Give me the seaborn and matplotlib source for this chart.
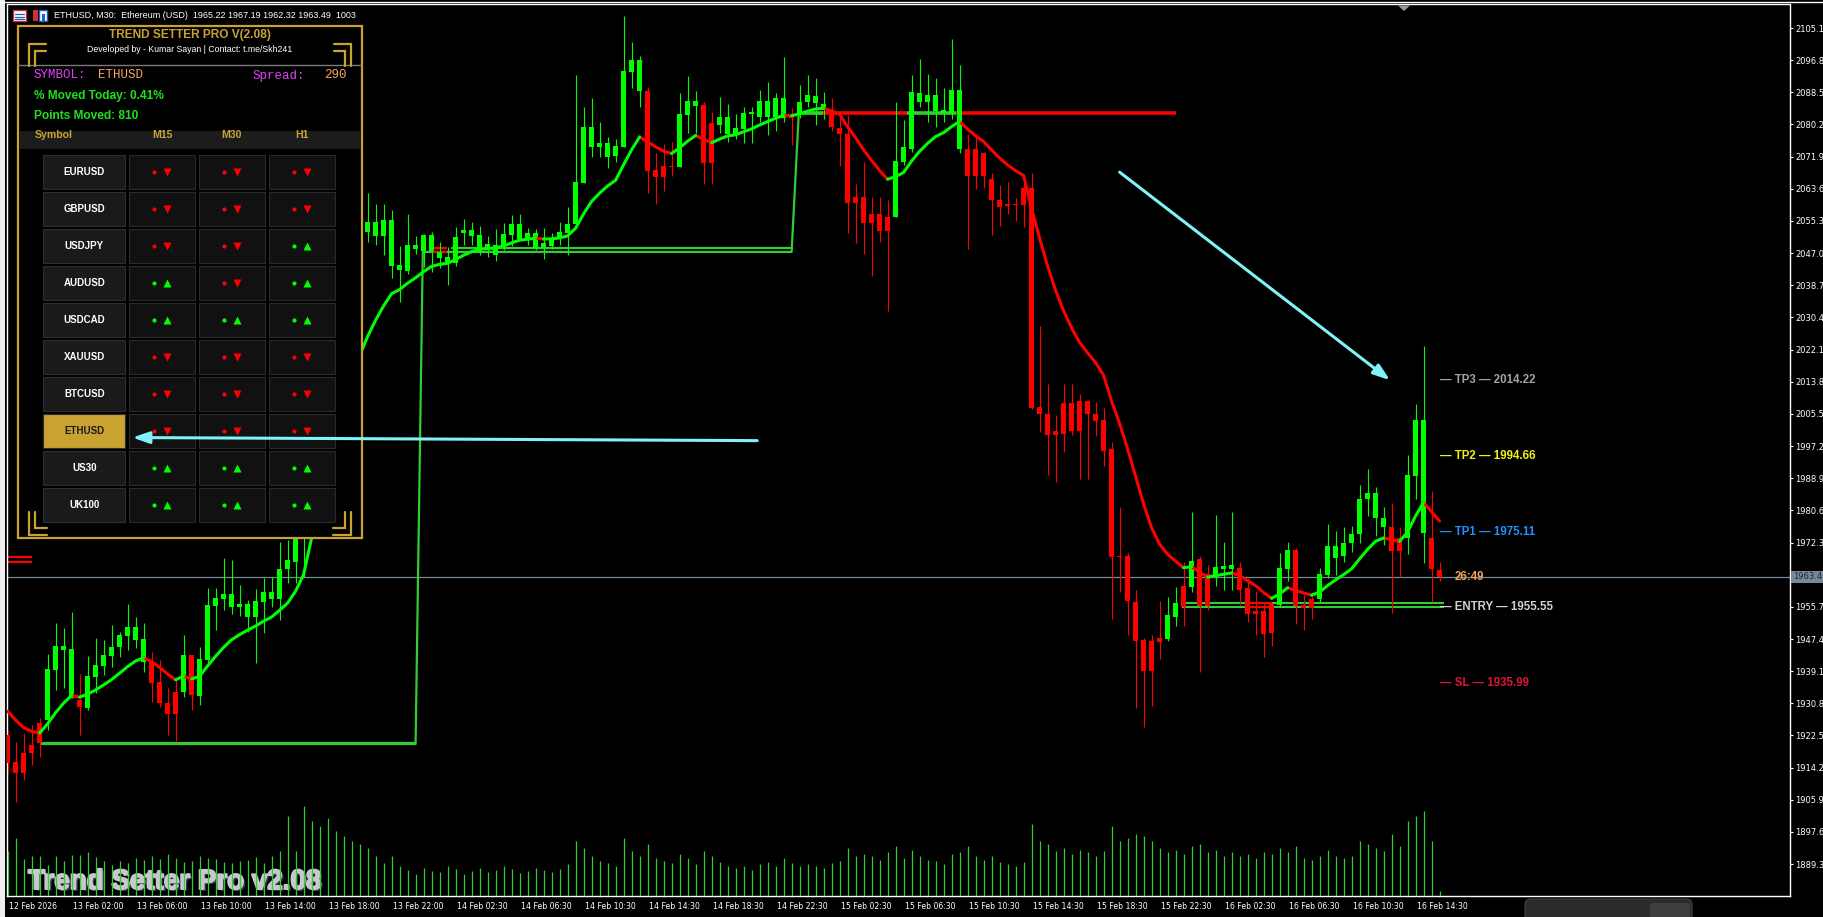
import numpy as np
import pandas as pd
import seaborn as sns
import matplotlib.pyplot as plt
import matplotlib.patheffects as pe
from matplotlib import font_manager
from matplotlib.patches import Rectangle, FancyArrowPatch, FancyBboxPatch, Polygon
from matplotlib.transforms import ScaledTranslation, blended_transform_factory

# ETHUSD M30 candles (bar 0 = first visible bar)
opens = [
    1922.6, 1915.6, 1917.9, 1920.0, 1925.7, 1926.5, 1939.4, 1944.6, 1932.2, 1931.6,
    1929.6, 1937.6, 1940.4, 1943.0, 1945.3, 1948.2, 1947.1, 1941.5, 1941.5, 1936.3,
    1930.9, 1933.7, 1933.7, 1943.3, 1932.7, 1942.0, 1955.9, 1957.7, 1955.7, 1955.7,
    1953.1, 1953.1, 1957.0, 1957.7, 1957.7, 1965.4, 1967.3, 1978.0, 1990.0, 2030.0,
    2040.0, 2048.0, 2055.0, 2050.0, 2058.0, 2052.4, 2051.4, 2051.4, 2043.7, 2042.6,
    2042.4, 2048.0, 2047.5, 2047.5, 2045.7, 2044.4, 2044.4, 2052.2, 2051.4, 2047.5,
    2048.5, 2046.5, 2048.8, 2051.7, 2050.6, 2050.6, 2048.3, 2048.6, 2048.8, 2050.6,
    2052.2, 2054.5, 2065.1, 2074.4, 2074.4, 2071.8, 2072.0, 2074.4, 2093.7, 2088.8,
    2088.8, 2068.4, 2069.5, 2069.5, 2069.2, 2082.6, 2084.9, 2085.2, 2080.6, 2080.1,
    2077.7, 2077.7, 2079.0, 2083.0, 2082.1, 2082.1, 2082.1, 2081.9, 2082.6, 2083.2,
    2086.0, 2085.7, 2083.9, 2084.0, 2079.4, 2077.8, 2061.4, 2061.4, 2057.0, 2057.0,
    2056.4, 2056.4, 2070.5, 2074.0, 2086.1, 2086.1, 2083.8, 2083.2, 2083.2, 2074.0,
    2073.9, 2073.9, 2072.9, 2066.2, 2060.6, 2059.6, 2059.6, 2063.8, 2063.8, 2007.4,
    2005.6, 2001.0, 2008.3, 2008.3, 2008.9, 2008.9, 2005.4, 2003.8, 1996.4, 1968.7,
    1968.7, 1957.0, 1947.1, 1946.9, 1947.6, 1947.3, 1953.2, 1961.1, 1960.9, 1968.0,
    1964.2, 1963.9, 1965.4, 1965.4, 1965.6, 1960.6, 1954.6, 1954.7, 1956.4, 1956.2,
    1965.4, 1970.5, 1956.2, 1957.6, 1957.6, 1963.9, 1968.4, 1968.7, 1972.1, 1974.5,
    1983.5, 1978.6, 1976.2, 1976.2, 1973.4, 1973.4, 1989.6, 1974.8, 1973.4, 1965.22,
]
highs = [
    1924.0, 1920.8, 1923.1, 1925.2, 1927.0, 1943.5, 1951.5, 1950.2, 1954.4, 1938.4,
    1943.0, 1947.6, 1947.1, 1951.0, 1949.2, 1956.4, 1953.1, 1951.5, 1944.0, 1941.9,
    1934.7, 1937.1, 1948.4, 1943.3, 1945.3, 1960.6, 1960.6, 1968.3, 1967.8, 1961.4,
    1957.4, 1960.3, 1963.2, 1963.4, 1972.5, 1973.0, 1982.0, 1995.0, 2036.0, 2046.0,
    2052.0, 2060.0, 2058.0, 2062.0, 2061.0, 2062.5, 2059.7, 2059.7, 2058.1, 2048.8,
    2057.1, 2051.5, 2052.0, 2052.5, 2049.9, 2048.6, 2053.8, 2055.8, 2055.0, 2054.0,
    2051.5, 2053.2, 2054.8, 2056.8, 2057.1, 2053.6, 2053.2, 2053.5, 2052.2, 2055.0,
    2058.9, 2092.9, 2084.7, 2087.0, 2080.8, 2077.0, 2076.5, 2108.2, 2101.5, 2097.9,
    2089.9, 2072.8, 2075.1, 2075.6, 2088.3, 2092.7, 2088.8, 2086.0, 2083.4, 2087.3,
    2085.5, 2082.9, 2084.7, 2084.7, 2089.1, 2091.2, 2088.3, 2097.6, 2084.4, 2090.4,
    2092.9, 2092.2, 2088.5, 2087.1, 2082.6, 2082.6, 2064.8, 2070.5, 2061.4, 2061.4,
    2060.6, 2086.1, 2081.4, 2093.0, 2097.1, 2093.3, 2092.3, 2089.7, 2102.2, 2095.6,
    2077.8, 2077.8, 2073.1, 2067.7, 2064.5, 2065.4, 2061.2, 2064.8, 2067.7, 2028.2,
    2013.3, 2005.1, 2013.3, 2013.3, 2010.7, 2009.2, 2008.7, 2007.1, 1998.2, 1981.6,
    1969.5, 1960.0, 1947.6, 1948.4, 1957.3, 1958.3, 1960.7, 1967.4, 1980.3, 1968.7,
    1966.5, 1979.4, 1972.5, 1980.3, 1967.4, 1963.1, 1959.9, 1957.0, 1956.8, 1969.7,
    1972.5, 1970.8, 1958.8, 1959.2, 1965.6, 1977.1, 1975.4, 1976.2, 1976.6, 1987.2,
    1991.2, 1986.6, 1981.4, 1982.6, 1976.4, 1994.9, 2008.1, 2023.0, 1985.7, 1967.19,
]
lows = [
    1912.5, 1905.3, 1911.0, 1914.9, 1916.9, 1923.9, 1934.2, 1934.7, 1932.2, 1922.6,
    1929.1, 1933.5, 1938.1, 1940.2, 1942.8, 1944.6, 1945.1, 1938.9, 1931.1, 1929.9,
    1922.6, 1920.8, 1932.4, 1929.1, 1930.4, 1941.5, 1949.7, 1955.0, 1953.8, 1953.3,
    1949.2, 1941.2, 1949.0, 1955.7, 1952.4, 1961.8, 1961.8, 1963.4, 1986.0, 2024.0,
    2035.0, 2044.0, 2045.0, 2048.0, 2049.0, 2049.9, 2049.1, 2046.5, 2040.6, 2034.4,
    2041.6, 2046.9, 2043.4, 2042.0, 2043.2, 2038.8, 2043.7, 2049.1, 2049.1, 2046.5,
    2046.0, 2045.0, 2047.8, 2048.8, 2050.4, 2049.1, 2047.8, 2045.5, 2048.0, 2049.0,
    2046.5, 2054.2, 2065.1, 2071.8, 2071.8, 2069.0, 2070.5, 2074.4, 2089.6, 2084.7,
    2062.5, 2059.7, 2063.1, 2066.9, 2069.2, 2078.0, 2078.0, 2064.8, 2064.8, 2078.0,
    2075.7, 2076.5, 2075.4, 2075.4, 2080.8, 2077.5, 2078.5, 2080.8, 2074.9, 2081.9,
    2084.7, 2080.1, 2081.6, 2078.4, 2069.5, 2052.3, 2049.5, 2046.9, 2041.2, 2049.9,
    2032.1, 2056.4, 2069.7, 2073.1, 2084.7, 2080.8, 2079.6, 2080.8, 2081.6, 2072.8,
    2048.1, 2063.6, 2063.8, 2051.7, 2054.1, 2057.0, 2055.3, 2053.8, 2006.8, 2000.8,
    1989.7, 1987.8, 1995.6, 2000.0, 1988.7, 1988.7, 1999.7, 1992.0, 1952.5, 1959.6,
    1948.4, 1929.5, 1924.6, 1930.1, 1942.2, 1947.0, 1950.8, 1950.8, 1959.6, 1939.0,
    1954.9, 1961.1, 1960.0, 1960.0, 1956.2, 1951.9, 1948.4, 1942.8, 1945.6, 1955.8,
    1962.4, 1951.4, 1949.6, 1952.5, 1957.0, 1963.1, 1963.9, 1967.4, 1969.9, 1972.1,
    1979.2, 1974.0, 1971.7, 1954.2, 1963.3, 1969.3, 1983.5, 1966.9, 1957.0, 1962.32,
]
closes = [
    1915.4, 1912.8, 1912.8, 1917.9, 1920.5, 1939.7, 1945.6, 1945.6, 1944.8, 1929.8,
    1937.8, 1940.7, 1943.3, 1945.3, 1948.4, 1950.5, 1950.5, 1947.4, 1936.0, 1930.9,
    1928.0, 1928.0, 1943.3, 1932.9, 1942.2, 1956.2, 1958.0, 1959.0, 1959.0, 1956.5,
    1956.5, 1957.2, 1959.5, 1959.5, 1965.4, 1967.8, 1978.0, 1990.0, 2030.0, 2040.0,
    2048.0, 2055.0, 2050.0, 2058.0, 2052.0, 2055.0, 2055.0, 2055.5, 2055.5, 2043.9,
    2049.1, 2049.1, 2051.7, 2051.7, 2047.3, 2046.0, 2051.2, 2053.0, 2053.0, 2051.7,
    2049.3, 2049.1, 2051.9, 2054.5, 2054.5, 2052.2, 2052.2, 2049.6, 2050.9, 2052.4,
    2054.5, 2065.3, 2079.5, 2079.5, 2075.4, 2075.4, 2074.6, 2094.0, 2096.8, 2096.8,
    2068.2, 2066.6, 2066.6, 2069.2, 2082.9, 2086.2, 2086.2, 2070.3, 2070.3, 2082.1,
    2082.1, 2079.3, 2083.1, 2083.4, 2086.2, 2086.2, 2087.0, 2087.0, 2081.9, 2086.0,
    2087.8, 2087.5, 2085.5, 2079.6, 2077.8, 2060.0, 2060.0, 2054.7, 2054.7, 2052.6,
    2052.6, 2070.7, 2074.3, 2088.5, 2088.3, 2087.7, 2087.7, 2084.0, 2089.1, 2089.1,
    2066.9, 2066.9, 2066.9, 2060.6, 2059.0, 2059.1, 2059.4, 2059.4, 2007.1, 2005.6,
    2000.0, 2000.0, 2000.4, 2001.2, 2001.2, 2005.4, 2003.6, 1995.9, 1968.5, 1968.5,
    1957.2, 1947.0, 1939.2, 1939.2, 1946.7, 1953.6, 1956.8, 1955.7, 1967.6, 1955.9,
    1955.9, 1966.1, 1966.2, 1966.5, 1960.0, 1953.9, 1953.9, 1948.7, 1948.9, 1965.6,
    1970.4, 1955.9, 1955.3, 1955.3, 1964.2, 1971.4, 1971.4, 1972.3, 1974.5, 1983.5,
    1985.2, 1985.2, 1978.6, 1970.2, 1970.2, 1989.7, 2003.9, 2003.9, 1965.4, 1963.49,
]
# tick volume per bar
volumes = [
    9000, 11600, 7400, 8000, 8000, 6200, 8000, 7000, 8200, 8200,
    8800, 7800, 7000, 6200, 7000, 6600, 7600, 7200, 8000, 7400,
    8400, 7600, 6800, 7000, 8000, 7600, 7400, 6800, 6600, 7000,
    7200, 7800, 6600, 8000, 9000, 16000, 9000, 18000, 15000, 14000,
    15600, 13000, 12000, 11000, 10400, 9600, 8000, 6600, 8000, 6000,
    5200, 4400, 5600, 5000, 4800, 6000, 5400, 4400, 5000, 5600,
    4800, 5200, 6000, 5400, 4600, 5000, 5600, 5200, 4800, 5400,
    6400, 11000, 9600, 8000, 7000, 6600, 6000, 11600, 9000, 8000,
    10400, 7600, 7000, 6600, 8400, 7600, 6400, 9000, 8000, 6800,
    6000, 5600, 6000, 5200, 6400, 6800, 6000, 7600, 6600, 6000,
    6400, 6000, 5600, 6600, 7000, 9600, 8000, 8400, 8000, 7200,
    8800, 10000, 7600, 9200, 8000, 7200, 7000, 6400, 8400, 8800,
    10000, 8000, 7200, 8000, 6800, 6400, 6000, 6800, 14400, 11000,
    10400, 9000, 9600, 8400, 9200, 8800, 8000, 9000, 14000, 11000,
    11600, 12400, 12000, 11000, 9600, 8800, 9200, 8400, 10000, 10400,
    8800, 9200, 8000, 8800, 8000, 8400, 7600, 8800, 8400, 9600,
    8800, 10000, 7600, 7200, 8000, 9200, 8000, 7600, 8000, 11000,
    10400, 9600, 9000, 12400, 10000, 15000, 16000, 17000, 11000, 1003,
]
ma_seed = 1931.0  # moving average value just before the first bar

time_labels = [
    '12 Feb 2026', '13 Feb 02:00', '13 Feb 06:00', '13 Feb 10:00', '13 Feb 14:00',
    '13 Feb 18:00', '13 Feb 22:00', '14 Feb 02:30', '14 Feb 06:30', '14 Feb 10:30',
    '14 Feb 14:30', '14 Feb 18:30', '14 Feb 22:30', '15 Feb 02:30', '15 Feb 06:30',
    '15 Feb 10:30', '15 Feb 14:30', '15 Feb 18:30', '15 Feb 22:30', '16 Feb 02:30',
    '16 Feb 06:30', '16 Feb 10:30', '16 Feb 14:30',
]
price_ticks = [2105.1, 2096.8, 2088.5, 2080.2, 2071.9, 2063.6, 2055.3, 2047.0, 2038.7,
               2030.4, 2022.1, 2013.8, 2005.5, 1997.2, 1988.9, 1980.6, 1972.3, 1955.7,
               1947.4, 1939.1, 1930.8, 1922.5, 1914.2, 1905.9, 1897.6, 1889.3]
bid_price = 1963.49
bid_label = '1963.4'

# support / resistance levels of the indicator
support_bars = [4, 51, 51.9, 98, 98.9, 101.9]
support_vals = [1920.5, 1920.5, 2047.3, 2047.3, 2083.1, 2083.1]
support2_bars = [55.5, 98]
support2_vals = [2048.3, 2048.3]
res_level = 2083.1
res_starts = [101.9, 112.4, 118.6]
res_ends = [112.4, 118.6, 146.0]
res_colors = ['#FF0000', '#32CD32', '#FF0000']
entry_zone = [1956.8, 1955.7]
entry_zone_span = [146.8, 179.5]

tp_texts = ['— TP3 — 2014.22', '— TP2 — 1994.66', '— TP1 — 1975.11',
            '— ENTRY — 1955.55', '— SL — 1935.99']
tp_prices = [2014.22, 1994.66, 1975.11, 1955.55, 1935.99]
tp_colors = ['#A3A3A3', '#F2F20F', '#1E90FF', '#D0D0D0', '#DC143C']

panel_symbols = ['EURUSD', 'GBPUSD', 'USDJPY', 'AUDUSD', 'USDCAD',
                 'XAUUSD', 'BTCUSD', 'ETHUSD', 'US30', 'UK100']
sig_m15 = ['dn', 'dn', 'dn', 'up', 'up', 'dn', 'dn', 'dn', 'up', 'up']
sig_m30 = ['dn', 'dn', 'dn', 'dn', 'up', 'dn', 'dn', 'dn', 'up', 'up']
sig_h1 = ['dn', 'dn', 'up', 'up', 'up', 'dn', 'dn', 'dn', 'up', 'up']

GREEN = '#00FF00'
RED = '#FF0000'
GOLD = '#C9A232'
LIME = '#32CD32'

sns.set_style('dark')
plt.rcParams['font.family'] = ['DejaVu Sans']


def have_font(name):
    try:
        font_manager.findfont(font_manager.FontProperties(family=name), fallback_to_default=False)
        return True
    except Exception:
        return False


sans = 'Liberation Sans' if have_font('Liberation Sans') else 'DejaVu Sans'
mono = 'Liberation Mono' if have_font('Liberation Mono') else 'DejaVu Sans Mono'
narrow = 'Liberation Sans Narrow' if have_font('Liberation Sans Narrow') else None

W, H = 1823, 917
fig = plt.figure(figsize=(W / 100, H / 100), dpi=100, facecolor='black')


def box(x0, y0, x1, y1):
    # pixel box of the screenshot -> figure fraction
    return [x0 / W, 1 - y1 / H, (x1 - x0) / W, (y1 - y0) / H]


# ---------------- main price chart ----------------
ax = fig.add_axes(box(7, 4.5, 1790, 896))
ax.set_facecolor('black')
bars = np.arange(len(closes))
o = np.array(opens)
c = np.array(closes)
candle_col = np.where(c >= o, GREEN, RED)

ax.axhline(bid_price, color='#778899', lw=0.9, zorder=1)

# indicator step lines
ax.plot(support_bars[:2], support_vals[:2], color=LIME, lw=2.3, zorder=2, solid_capstyle='butt')
ax.plot(support_bars[1:], support_vals[1:], color=LIME, lw=1.6, zorder=2, solid_capstyle='butt')
ax.plot(support2_bars, support2_vals, color=LIME, lw=1.6, zorder=2)
ax.hlines([2048.3, 2047.3], 53.0, 54.9, color=RED, lw=1.6, zorder=2.1)
ax.hlines([2048.3], 58.8, 59.8, color=RED, lw=1.6, zorder=2.1)
ax.hlines(res_level, 98.9, 101.9, color=LIME, lw=2.6, zorder=2)
ax.hlines([res_level] * 3, res_starts, res_ends, colors=res_colors, lw=2.6, zorder=2)
ax.hlines(entry_zone, entry_zone_span[0], entry_zone_span[1], color=LIME, lw=1.5, zorder=2)
ax.hlines(entry_zone, 155.2, 158.0, color=RED, lw=1.5, zorder=2.1)
ax.hlines([1968.6, 1967.3], -0.05, 3.0, color=RED, lw=1.6, zorder=2)

# candles
ax.vlines(bars, lows, highs, colors=candle_col, lw=0.8, zorder=3)
body_lo = np.minimum(o, c)
body_h = np.maximum(np.abs(c - o), 0.3)
ax.bar(bars, body_h, bottom=body_lo, width=0.56, color=candle_col, linewidth=0, zorder=3.1)

# moving average, green while rising and red while falling
ema = pd.Series([ma_seed] + closes).ewm(span=13, adjust=False).mean().to_numpy()[1:]
prev = np.r_[ma_seed, ema[:-1]]
trend = np.where(ema >= prev, 'up', 'down')
rows, run = [], 0
for i in range(len(bars)):
    if i > 0 and trend[i] != trend[i - 1]:
        run += 1
        rows.append((bars[i - 1], ema[i - 1], trend[i], run))
    rows.append((bars[i], ema[i], trend[i], run))
ma_df = pd.DataFrame(rows, columns=['bar', 'ema', 'trend', 'run'])
sns.lineplot(data=ma_df, x='bar', y='ema', hue='trend', units='run', estimator=None,
             sort=False, palette={'up': GREEN, 'down': RED}, lw=2.2, legend=False,
             ax=ax, zorder=4)

# trade levels on the right
for txt, pr, col in zip(tp_texts, tp_prices, tp_colors):
    ax.text(179.0, pr, txt, color=col, fontsize=8.3, fontweight='bold', family=sans,
            ha='left', va='center', zorder=6)
ax.text(180.9, bid_price, '26:49', color='#F4A460', fontsize=8.3, fontweight='bold',
        family=sans, ha='left', va='center', zorder=6)

ax.set_xlim(-0.075, 222.8)
ax.set_ylim(1881.07, 2111.17)
ax.set_xlabel('')
ax.set_ylabel('')
ax.grid(False)
for s in ax.spines.values():
    s.set_color('white')
    s.set_linewidth(1.0)

# volumes in their own scale at the bottom
axv = ax.twinx()
axv.vlines(bars, 0, volumes, color=LIME, lw=0.9)
axv.set_ylim(0, 178800)
axv.set_yticks([])
axv.grid(False)
for s in axv.spines.values():
    s.set_visible(False)
axv.patch.set_visible(False)

# price scale on the right (after twinx, which moves it to the left)
ax.yaxis.tick_right()
ax.set_yticks(price_ticks)
ax.set_yticklabels([f'{v:.1f}' for v in price_ticks])
ax.tick_params(axis='y', which='both', left=False, right=True, labelleft=False,
               labelright=True, colors='white', labelsize=6, length=2.5, width=0.8,
               pad=1.2, direction='out')
ax.set_xticks(np.arange(len(time_labels)) * 8)
ax.set_xticklabels(time_labels)
ax.tick_params(axis='x', colors='white', labelsize=5.6, length=2.5, width=0.8, pad=1.5,
               direction='out')
shift = ScaledTranslation(1.2 / 72, 0, fig.dpi_scale_trans)
for lab in ax.get_xticklabels():
    lab.set_horizontalalignment('left')
    lab.set_transform(lab.get_transform() + shift)

ax.text(1.0015, bid_price, bid_label,
        transform=blended_transform_factory(ax.transAxes, ax.transData),
        ha='left', va='center', fontsize=6, color='#1d2733', zorder=7, clip_on=False,
        bbox=dict(boxstyle='square,pad=0.18', fc='#778899', ec='none'))

# ---------------- overlay in screen pixels ----------------
axo = fig.add_axes([0, 0, 1, 1], zorder=10)
axo.set_xlim(0, W)
axo.set_ylim(H, 0)
axo.axis('off')

big_kw = dict(fontsize=25, fontweight='bold', family=narrow) if narrow else \
    dict(fontsize=20, fontweight='bold', family=sans)
ax.text(28, 889, 'Trend Setter Pro v2.08', transform=axo.transData, color='#C8C8C8',
        ha='left', va='baseline', zorder=1.5,
        path_effects=[pe.SimplePatchShadow(offset=(1.6, -1.4), shadow_rgbFace='#2c3764', alpha=1),
                      pe.withStroke(linewidth=1.4, foreground='#C8C8C8')],
        **big_kw)

axo.add_patch(Rectangle((0, 0), 5, H, fc='#EEEEEE', ec='none'))
axo.plot([0, W], [1.5, 1.5], color='white', lw=1)
axo.add_patch(Polygon([(1398, 5.5), (1410, 5.5), (1404, 11)], closed=True, fc='#9A9A9A', ec='none'))

# window title and icons
axo.add_patch(Rectangle((13, 10), 13, 11, fc='white', ec='#D03030', lw=1))
for yy in (13.5, 16.5, 19):
    axo.plot([15, 24], [yy, yy], color='#2060C0', lw=0.9)
axo.add_patch(Rectangle((32.5, 10), 5.5, 11, fc='#D03030', ec='none'))
axo.add_patch(Rectangle((39, 10), 8, 11, fc='white', ec='#2060C0', lw=1))
axo.add_patch(Rectangle((41.5, 14), 3, 7, fc='#2060C0', ec='none'))
axo.text(53.6, 15.5, 'ETHUSD, M30:  Ethereum (USD)  1965.22 1967.19 1962.32 1963.49  1003',
         color='white', fontsize=6.5, family=sans, ha='left', va='center')

# bottom right widget
axo.add_patch(FancyBboxPatch((1525, 899), 167, 26, boxstyle='round,pad=0,rounding_size=6',
                             fc='#2B2B2B', ec='#3A3A3A', lw=1))
axo.add_patch(FancyBboxPatch((1650, 903), 40, 22, boxstyle='round,pad=0,rounding_size=4',
                             fc='#3E3E3E', ec='none'))

# cyan arrows pointing at the panel row and at the targets
for tail, head in [((93.7, 1998.6), (15.6, 1999.4)), ((139.0, 2067.9), (172.8, 2014.2))]:
    axo.add_patch(FancyArrowPatch(tail, head, transform=ax.transData, color='#7FF3F8',
                                  lw=2.2, arrowstyle='-|>,head_length=1.0,head_width=0.35',
                                  mutation_scale=10, shrinkA=0, shrinkB=0, clip_on=False,
                                  zorder=20))

# ---------------- dashboard panel ----------------
axp = fig.add_axes(box(18.4, 25.7, 362, 538), zorder=5)
axp.set_xlim(18.4, 362)
axp.set_ylim(538, 25.7)
axp.axis('off')
axp.add_patch(Rectangle((18.4, 25.7), 343.6, 512.3, fc='black', ec=GOLD, lw=1.6, clip_on=False))
axp.text(190, 35, 'TREND SETTER PRO V(2.08)', color=GOLD, fontsize=8.6, fontweight='bold',
         family=sans, ha='center', va='center')
axp.text(190, 50, 'Developed by - Kumar Sayan | Contact: t.me/Skh241', color='white',
         fontsize=6.3, family=sans, ha='center', va='center')
axp.plot([18.4, 362], [65, 65], color='#7A7A7A', lw=1)

# gold corner brackets
for sx, x0 in [(1, 29), (-1, 351)]:
    axp.plot([x0, x0, x0 + sx * 17], [66, 44, 44], color=GOLD, lw=1.6, solid_joinstyle='miter')
    axp.plot([x0 + sx * 6, x0 + sx * 6, x0 + sx * 17], [66, 51, 51], color=GOLD, lw=1.6,
             solid_joinstyle='miter')
    axp.plot([x0, x0, x0 + sx * 18], [512, 535, 535], color=GOLD, lw=1.6, solid_joinstyle='miter')
    axp.plot([x0 + sx * 6, x0 + sx * 6, x0 + sx * 18], [512, 528, 528], color=GOLD, lw=1.6,
             solid_joinstyle='miter')

axp.text(33.7, 75.5, 'SYMBOL:', color='#E040FB', fontsize=9, family=mono, ha='left', va='center')
axp.text(98, 75.5, 'ETHUSD', color='#F4A460', fontsize=9, family=mono, ha='left', va='center')
axp.text(252.6, 75.5, 'Spread:', color='#E040FB', fontsize=9, family=mono, ha='left', va='center')
axp.text(324.5, 75.5, '290', color='#F4A460', fontsize=9, family=mono, ha='left', va='center')
axp.text(33.7, 96, '% Moved Today: 0.41%', color='#1FE01F', fontsize=8.6, fontweight='bold',
         family=sans, ha='left', va='center')
axp.text(33.7, 116, 'Points Moved: 810', color='#1FE01F', fontsize=8.6, fontweight='bold',
         family=sans, ha='left', va='center')

axp.add_patch(Rectangle((19.2, 131), 342, 18, fc='#1C1C1C', ec='none'))
axp.text(34.4, 134.5, 'Symbol', color=GOLD, fontsize=7.6, fontweight='bold', family=sans,
         ha='left', va='center')
for xx, lab in [(162, 'M15'), (232, 'M30'), (302, 'H1')]:
    axp.text(xx, 134.5, lab, color=GOLD, fontsize=7.6, fontweight='bold', family=sans,
             ha='center', va='center')

cell_x = [(128.7, 195.3), (198.7, 265.3), (268.7, 335.3)]
for k, sym in enumerate(panel_symbols):
    top = 155 + 37 * k
    cy = top + 17
    hl = sym == 'ETHUSD'
    axp.add_patch(Rectangle((43.3, top), 82, 34, fc=GOLD if hl else '#1A1A1A',
                            ec='#2E2E2E', lw=0.8))
    axp.text(84.3, cy, sym, color='#1A1A1A' if hl else 'white', fontsize=7,
             fontweight='bold', family=sans, ha='center', va='center')
    for (x0, x1), sig in zip(cell_x, (sig_m15[k], sig_m30[k], sig_h1[k])):
        axp.add_patch(Rectangle((x0, top), x1 - x0, 34, fc='#111111', ec='#2A2A2A', lw=0.8))
        cx = (x0 + x1) / 2
        col = GREEN if sig == 'up' else RED
        axp.plot(cx - 8, cy, 'o', ms=3, color=col, mec='none')
        axp.plot(cx + 4.5, cy, '^' if sig == 'up' else 'v', ms=5.5, color=col, mec='none')

fig.savefig('out.png', dpi=100, facecolor='black')
